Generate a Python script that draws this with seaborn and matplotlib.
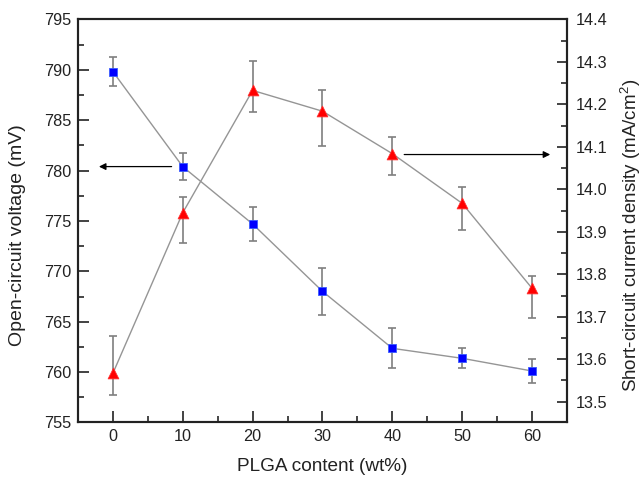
import numpy as np
import pandas as pd
import matplotlib
matplotlib.use("Agg")
import matplotlib.pyplot as plt
import seaborn as sns
from matplotlib.ticker import MultipleLocator

# ---- data ----
plga = [0, 10, 20, 30, 40, 50, 60]
voc = [789.82, 780.39, 774.70, 768.02, 762.36, 761.37, 760.11]
voc_err_lo = [1.45, 1.35, 1.7, 2.35, 1.95, 0.95, 1.2]
voc_err_hi = [1.45, 1.4, 1.65, 2.35, 2.0, 1.0, 1.2]
jsc = [13.567, 13.945, 14.233, 14.184, 14.084, 13.967, 13.767]
jsc_err_lo = [0.051, 0.072, 0.051, 0.082, 0.051, 0.062, 0.071]
jsc_err_hi = [0.088, 0.038, 0.069, 0.049, 0.039, 0.038, 0.028]

xlabel = "PLGA content (wt%)"
ylabel_left = "Open-circuit voltage (mV)"
ylabel_right = "Short-circuit current density (mA/cm$^2$)"

sns.set_style("ticks")
plt.rcParams['font.family'] = ['Liberation Sans', 'DejaVu Sans']
plt.rcParams['mathtext.fontset'] = 'custom'
plt.rcParams['mathtext.rm'] = 'Liberation Sans'

df = pd.DataFrame({"plga": plga, "voc": voc, "jsc": jsc})

fig = plt.figure(figsize=(6.44, 4.8), dpi=100)
ax = fig.add_axes([0.1211, 0.1198, 0.7593, 0.8396])
ax2 = ax.twinx()

line_c = "#959595"
err_c = "#7f7f7f"

# left series
ax.errorbar(plga, voc, yerr=[voc_err_lo, voc_err_hi], fmt='none', ecolor=err_c,
            elinewidth=1.2, capsize=2.8, capthick=1.2, zorder=2)
sns.lineplot(data=df, x="plga", y="voc", ax=ax, color=line_c, linewidth=1.0, zorder=3)
sns.scatterplot(data=df, x="plga", y="voc", ax=ax, marker="s", s=36, color="#0000ff",
                edgecolor="#3a5cff", linewidth=0.6, zorder=4)

# right series
ax2.errorbar(plga, jsc, yerr=[jsc_err_lo, jsc_err_hi], fmt='none', ecolor=err_c,
             elinewidth=1.2, capsize=2.8, capthick=1.2, zorder=2)
sns.lineplot(data=df, x="plga", y="jsc", ax=ax2, color=line_c, linewidth=1.0, zorder=3)
sns.scatterplot(data=df, x="plga", y="jsc", ax=ax2, marker="^", s=60, color="#ff0000",
                edgecolor="#ff3030", linewidth=0.6, zorder=4)

# arrows
ax.annotate("", xy=(-2.0, 780.4), xytext=(8.4, 780.4),
            arrowprops=dict(arrowstyle="-|>", color="black", lw=0.9,
                            mutation_scale=10, shrinkA=0, shrinkB=0))
ax2.annotate("", xy=(62.6, 14.082), xytext=(41.7, 14.082),
             arrowprops=dict(arrowstyle="-|>", color="black", lw=0.9,
                             mutation_scale=10, shrinkA=0, shrinkB=0))

ax.set_xlim(-5, 65)
ax.set_ylim(755, 795)
ax2.set_ylim(13.451, 14.4)

ax.xaxis.set_major_locator(MultipleLocator(10))
ax.xaxis.set_minor_locator(MultipleLocator(5))
ax.yaxis.set_major_locator(MultipleLocator(5))
ax.yaxis.set_minor_locator(MultipleLocator(2.5))
ax2.yaxis.set_minor_locator(MultipleLocator(0.05))
r_ticks = np.round(np.arange(13.5, 14.41, 0.1), 1)
ax2.set_yticks(r_ticks)
ax2.set_yticklabels([f"{v:.1f}" for v in r_ticks])

for a in (ax, ax2):
    a.tick_params(which='major', direction='in', length=8, width=1.2, labelsize=11.7,
                  colors='#222222', labelcolor='#222222', pad=5)
    a.tick_params(which='minor', direction='in', length=4.5, width=1.2)
    for s in a.spines.values():
        s.set_linewidth(1.5)
        s.set_color('#222222')
ax.tick_params(axis='x', which='both', top=False)
ax.tick_params(axis='y', which='both', right=False)
ax2.tick_params(axis='y', which='major', length=7, pad=6)

ax.set_xlabel(xlabel, fontsize=13.7, color='#222222')
ax.set_ylabel(ylabel_left, fontsize=14, color='#222222')
ax2.set_ylabel(ylabel_right, fontsize=13.5, color='#222222')
ax.xaxis.set_label_coords(0.5, -0.088)
ax.yaxis.set_label_coords(-0.106, 0.465)
ax2.yaxis.set_label_coords(1.104, 0.465)

fig.savefig("out.png", dpi=100)
